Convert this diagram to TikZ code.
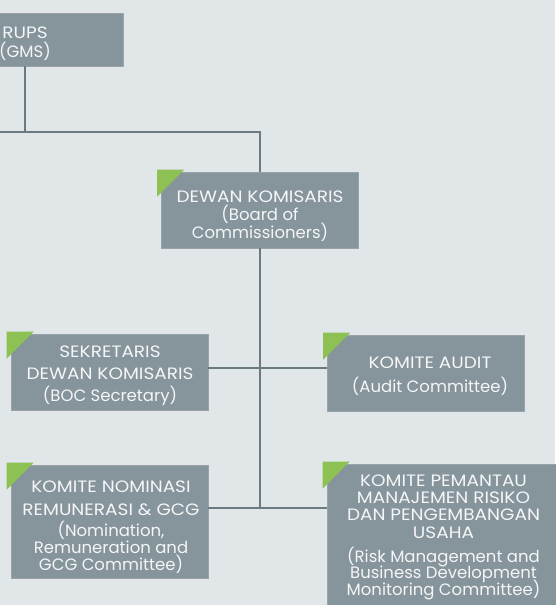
\documentclass[tikz,border=0pt]{standalone}
\usepackage{fontspec}
\setmainfont{Poppins}
\newfontfamily\capfont{Poppins}[FakeStretch=1.12]
\usetikzlibrary{calc}
\definecolor{bgc}{HTML}{E1E6E9}
\definecolor{boxc}{HTML}{86949B}
\definecolor{boxedge}{HTML}{98A4AA}
\definecolor{linec}{HTML}{6B7980}
\definecolor{tabc}{HTML}{8DC153}
\definecolor{txtc}{HTML}{F4F6F7}
\newcommand\greentab[1]{%
  \fill[tabc] ($(#1.north west)+(-4,-2)$) -- ++(27,0) -- ++(-27,27) -- cycle;}
% fixed baseline distance, whatever the glyph heights
\newcommand\boxfont{\fontsize{16.5}{17}\selectfont
  \lineskiplimit=-50pt\relax\lineskip=0pt\relax}
\begin{document}
\begin{tikzpicture}[x=1pt,y=-1pt,
  box/.style={fill=boxc, draw=boxedge, line width=0.6pt, inner sep=0pt,
    minimum width=197pt},
  label text/.style={text=txtc, align=center, inner sep=0pt, anchor=base,
    font=\boxfont},
  link/.style={draw=linec, line width=1.6pt}]
  % canvas
  \fill[bgc] (0,0) rectangle (555,605);
  \useasboundingbox (0,0) rectangle (555,605);

  % boxes
  \node[box, minimum height=53pt] (rups) at (25,39.5) {};
  \node[box, minimum height=76pt] (dewan) at (260,210) {};
  \node[box, minimum height=76pt] (sek) at (109.5,372) {};
  \node[box, minimum height=76pt] (aud) at (426,373) {};
  \node[box, minimum height=113pt] (nom) at (109.5,521.5) {};
  \node[box, minimum width=243pt, minimum height=160pt] (pem) at (448.5,544) {};

  % corner tabs
  \greentab{dewan}
  \greentab{sek}
  \greentab{aud}
  \greentab{nom}
  \greentab{pem}

  % box texts (anchored on the last baseline)
  \node[label text] (rups-t) at (25,57)
    {{\capfont RUPS}\\[2pt](GMS)};
  \node[label text] (dewan-t) at (260,238)
    {{\capfont DEWAN KOMISARIS}\\[1pt](Board of\\[1pt]Commissioners)};
  \node[label text] (sek-t) at (110,401)
    {{\capfont SEKRETARIS}\\[5pt]{\capfont DEWAN KOMISARIS}\\[5pt](BOC Secretary)};
  \node[label text] (aud-t) at (430,392)
    {{\capfont KOMITE AUDIT}\\[7pt](Audit Committee)};
  \node[label text] (nom-t) at (111,570)
    {{\capfont KOMITE NOMINASI}\\[6pt]{\capfont REMUNERASI \& GCG}\\[4pt](Nomination,\\Remuneration and\\GCG Committee)};
  \node[label text] (pem-t) at (443.5,595)
    {{\capfont KOMITE PEMANTAU}\\{\capfont MANAJEMEN RISIKO}\\{\capfont DAN PENGEMBANGAN}\\[1pt]{\capfont USAHA}\\[7pt](Risk Management and\\[-1pt]Business Development\\Monitoring Committee)};

  % connectors
  \coordinate (busL) at (0,132);
  \coordinate (bus) at (260,132);
  \coordinate (j2) at (260,368);
  \coordinate (j3) at (260,508);
  \draw[link] (busL) -- (bus) -- (dewan.north);
  \draw[link] (rups.south) -- (rups.south |- bus);
  \draw[link] (dewan.south) -- (j3);
  \draw[link] (sek.east |- j2) -- (aud.west |- j2);
  \draw[link] (nom.east |- j3) -- (pem.west |- j3);
\end{tikzpicture}
\end{document}
